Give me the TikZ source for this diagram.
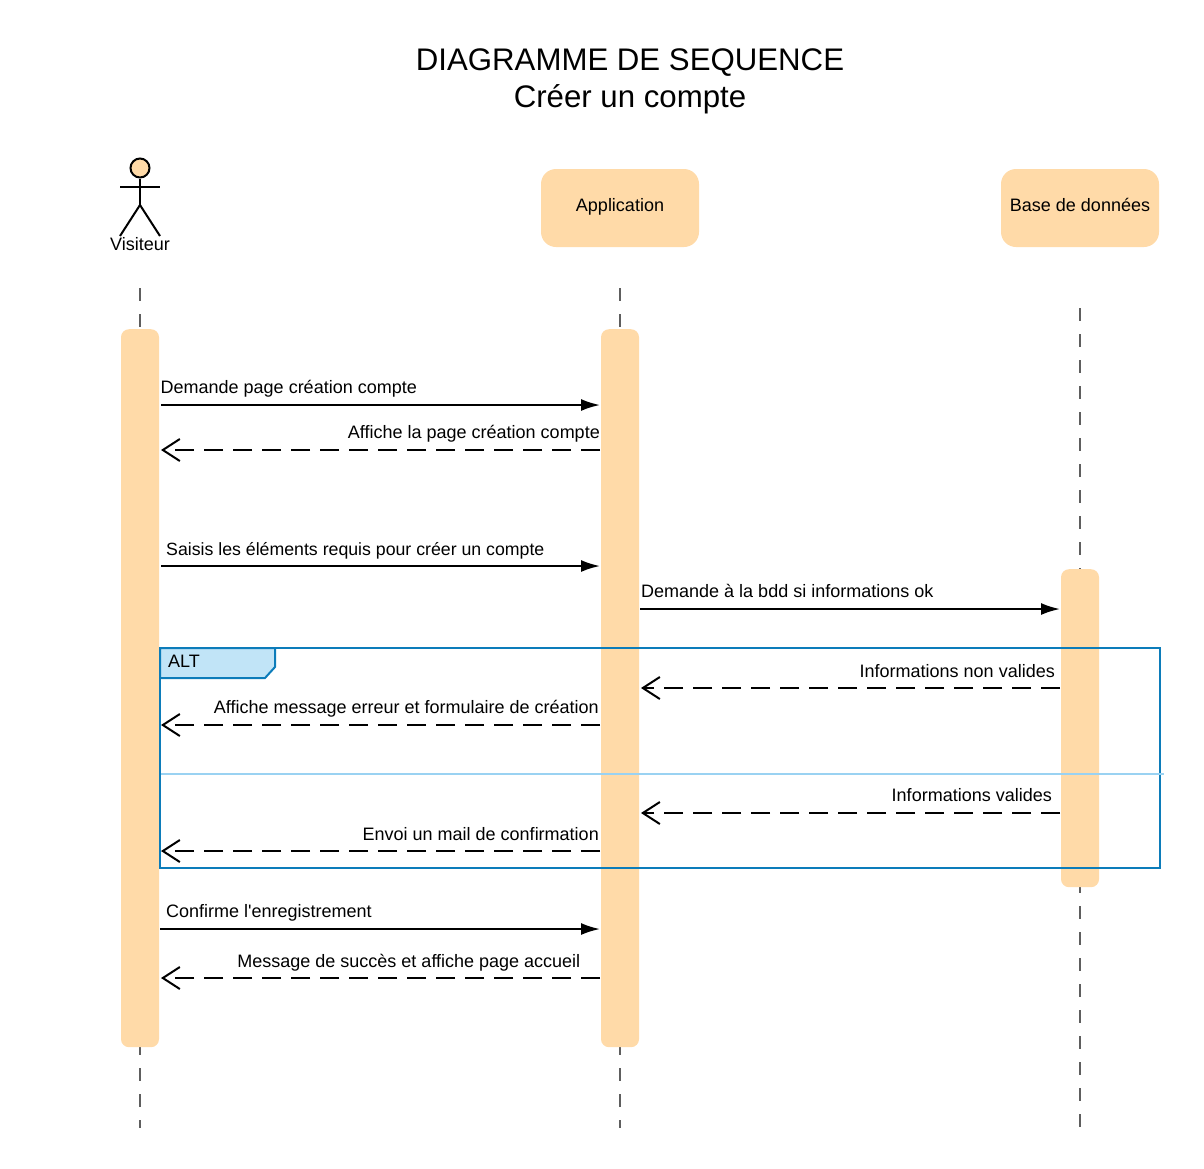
\documentclass[tikz,border=0pt]{standalone}
\usepackage{fontspec}
\setmainfont{Liberation Sans}
\newfontfamily\straightquote{Liberation Sans}
\usetikzlibrary{arrows.meta,shapes.geometric}
\definecolor{peach}{HTML}{FFDAA8}
\definecolor{frameblue}{HTML}{0C7CBA}
\definecolor{tabblue}{HTML}{C1E4F7}
\definecolor{divblue}{HTML}{9AD2F2}
\definecolor{lifegray}{HTML}{5E5E5E}
\tikzset{
  x=1pt,y=-1pt,
  barbox/.style={fill=peach,draw=none,rounded corners=8pt,minimum width=38pt,inner sep=0pt,anchor=north},
  headbox/.style={fill=peach,draw=none,rounded corners=15pt,minimum width=158pt,minimum height=78pt,inner sep=0pt,font=\fontsize{18}{22}\selectfont},
  lifeline/.style={draw=lifegray,line width=2pt,dash pattern=on 13pt off 13pt},
  syncmsg/.style={draw=black,line width=2pt,-{Latex[length=19pt,width=12pt]}},
  retmsg/.style={draw=black,line width=2pt,dash pattern=on 19pt off 10pt,-{Straight Barb[length=17pt,width=22pt,line width=2pt]}},
  msglabel/.style={inner sep=0pt,font=\fontsize{18}{22}\selectfont},
  titletext/.style={inner sep=0pt,font=\fontsize{31.2}{37}\selectfont},
}
\begin{document}
\begin{tikzpicture}
\useasboundingbox (0,0) rectangle (1204,1168);
% lifeline ends
\coordinate (lv1) at (140,288); \coordinate (lv2) at (140,1128);
\coordinate (la1) at (620,288); \coordinate (la2) at (620,1128);
\coordinate (lb1) at (1080,308); \coordinate (lb2) at (1080,1128);
\draw[lifeline] (lv1) -- (lv2);
\draw[lifeline] (la1) -- (la2);
\draw[lifeline] (lb1) -- (lb2);
% title
\node[titletext,anchor=base] (t1) at (630,70) {DIAGRAMME DE SEQUENCE};
\node[titletext,anchor=base] (t2) at (630,107.5) {Créer un compte};
% actor
\node[circle,draw=black,line width=2pt,fill=peach,minimum size=19pt,inner sep=0pt] (head) at (140,168) {};
\coordinate (hipv) at (140,205);
\coordinate (armL) at (120,187); \coordinate (armR) at (160,187);
\coordinate (armM) at (140,187);
\coordinate (legL) at (120,236); \coordinate (legR) at (160,236);
\draw[black,line width=2pt] (head) -- (hipv);
\draw[black,line width=2pt] (armL) -- (armR);
\draw[black,line width=2pt] (legL) -- (hipv) -- (legR);
\node[msglabel,anchor=base] (visiteur) at (140,250.5) {Visiteur};
% heads
\node[headbox] (app) at (620,208) {};
\node[msglabel,anchor=base] (appt) at (620,211.5) {Application};
\node[headbox] (bdd) at (1080,208) {};
\node[msglabel,anchor=base] (bddt) at (1080,211.5) {Base de données};
% activation bars
\node[barbox,minimum height=718pt] (barv) at (140,329) {};
\node[barbox,minimum height=718pt] (bara) at (620,329) {};
\node[barbox,minimum height=318pt] (barb) at (1080,569) {};
% frame
\coordinate (fTL) at (160,648); \coordinate (fTR) at (1160,648);
\coordinate (fBR) at (1160,868); \coordinate (fBL) at (160,868);
\draw[frameblue,line width=2pt,fill=tabblue] (fTL) -- (275,648) -- (275,667) -- (265,678) -- (160,678) -- cycle;
\draw[frameblue,line width=2pt] (fTL) -- (fTR) -- (fBR) -- (fBL) -- cycle;
\node[msglabel,anchor=base west] (alt) at (168,667) {ALT};
\coordinate (d1) at (161,774); \coordinate (d2) at (1164,774);
\draw[divblue,line width=2pt] (d1) -- (d2);
% messages
\coordinate (m1a) at (161,405); \coordinate (m1b) at (600,405);
\draw[syncmsg] (m1a) -- (m1b);
\node[msglabel,anchor=base west] (l1) at (160.5,393.5) {Demande page création compte};
\coordinate (m2a) at (600,450); \coordinate (m2b) at (161,450);
\draw[retmsg] (m2a) -- (m2b);
\node[msglabel,anchor=base east] (l2) at (600,438.5) {Affiche la page création compte};
\coordinate (m3a) at (161,566); \coordinate (m3b) at (600,566);
\draw[syncmsg] (m3a) -- (m3b);
\node[msglabel,anchor=base west,font=\fontsize{17.72}{22}\selectfont] (l3) at (166,555) {Saisis les éléments requis pour créer un compte};
\coordinate (m4a) at (640,609); \coordinate (m4b) at (1060,609);
\draw[syncmsg] (m4a) -- (m4b);
\node[msglabel,anchor=base west] (l4) at (641,597) {Demande à la bdd si informations ok};
\coordinate (m5a) at (1060,688); \coordinate (m5b) at (641,688);
\draw[retmsg] (m5a) -- (m5b);
\node[msglabel,anchor=base east] (l5) at (1055,677) {Informations non valides};
\coordinate (m6a) at (600,725); \coordinate (m6b) at (161,725);
\draw[retmsg] (m6a) -- (m6b);
\node[msglabel,anchor=base east] (l6) at (599,713.5) {Affiche message erreur et formulaire de création};
\coordinate (m7a) at (1060,813); \coordinate (m7b) at (641,813);
\draw[retmsg] (m7a) -- (m7b);
\node[msglabel,anchor=base east] (l7) at (1052,801) {Informations valides};
\coordinate (m8a) at (600,851); \coordinate (m8b) at (161,851);
\draw[retmsg] (m8a) -- (m8b);
\node[msglabel,anchor=base east] (l8) at (599,840) {Envoi un mail de confirmation};
\coordinate (m9a) at (160,929); \coordinate (m9b) at (600,929);
\draw[syncmsg] (m9a) -- (m9b);
\node[msglabel,anchor=base west] (l9) at (166,917) {Confirme l{\straightquote'}enregistrement};
\coordinate (m10a) at (600,978); \coordinate (m10b) at (161,978);
\draw[retmsg] (m10a) -- (m10b);
\node[msglabel,anchor=base east] (l10) at (580.5,967) {Message de succès et affiche page accueil};
\end{tikzpicture}
\end{document}
